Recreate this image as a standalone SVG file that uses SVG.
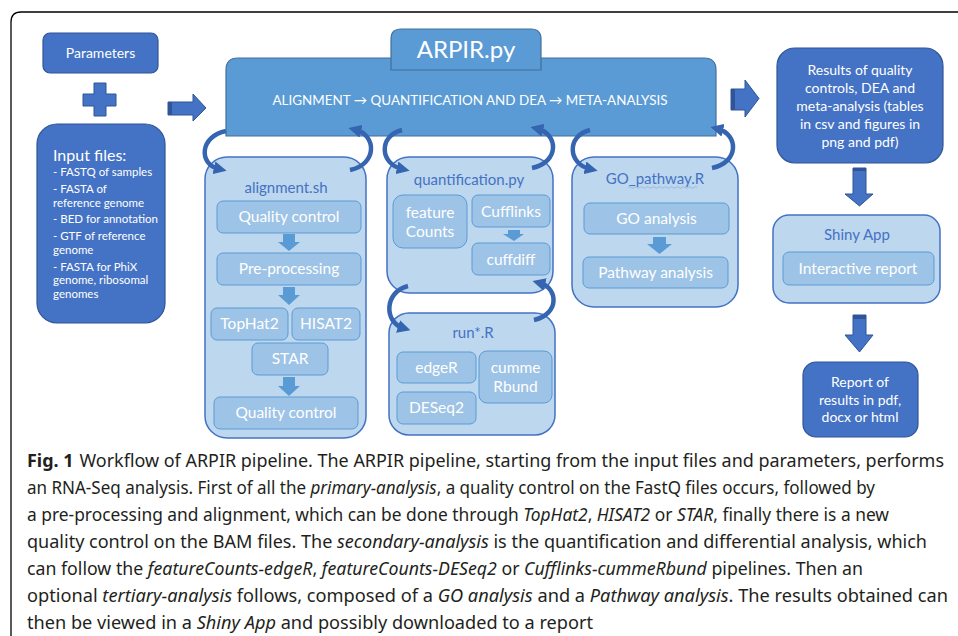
<svg xmlns="http://www.w3.org/2000/svg" width="958" height="636" viewBox="0 0 958 636">
<defs>
<style>
.dark{fill:#4472C4;stroke:#2F5597;stroke-width:1.2}
.main{fill:#5B9BD5;stroke:#41719C;stroke-width:1.2}
.cont{fill:#BDD7EE;stroke:#4472C4;stroke-width:1.5}
.inner{fill:#9DC3E6;stroke:#5B9BD5;stroke-width:1}
.blk{fill:#4472C4;stroke:#2F5597;stroke-width:1}
.sm{fill:#5B9BD5}
.t{font-family:Lato,"Open Sans","Liberation Sans",sans-serif;fill:#fff;text-anchor:middle}
.ttl{font-family:Lato,"Open Sans","Liberation Sans",sans-serif;fill:#4472C4;text-anchor:middle;font-size:15px}
.in{font-size:15.5px}
.bul{font-family:Lato,"Open Sans","Liberation Sans",sans-serif;fill:#fff;font-size:11.5px}
.cap{font-family:"Noto Sans","Open Sans","Liberation Sans",sans-serif;font-size:18px;fill:#231F20}
.curve{fill:none;stroke:#3564B0;stroke-width:4.5;marker-end:url(#ah)}
</style>
<marker id="ah" viewBox="0 0 10 10" refX="4" refY="5" markerWidth="13" markerHeight="13" markerUnits="userSpaceOnUse" orient="auto">
<path d="M0,0 L10,5 L0,10 z" fill="#3564B0"/>
</marker>
</defs>
<rect width="958" height="636" fill="#fff"/>
<path d="M11 636 L11 22 Q11 12 21 12 L958 12" fill="none" stroke="#000" stroke-width="1.3"/>

<g id="parameters">
<rect class="dark" x="43" y="33" width="115" height="40" rx="7"/>
<text class="t" x="100.5" y="58" font-size="14">Parameters</text>
</g>
<g id="plus">
<path class="blk" d="M94 83 H106 V94 H116 V106 H106 V116 H94 V106 H83 V94 H94 Z"/>
</g>
<g id="input-files">
<rect class="dark" x="37" y="124" width="128" height="199" rx="20"/>
<text x="53" y="161" font-size="16" fill="#fff" font-family="Lato,'Open Sans','Liberation Sans',sans-serif">Input files:</text>
<text class="bul" x="53" y="176">- FASTQ of samples</text>
<text class="bul" x="53" y="193">-  FASTA of</text>
<text class="bul" x="53" y="207">reference genome</text>
<text class="bul" x="53" y="223">- BED for annotation</text>
<text class="bul" x="53" y="240">- GTF of reference</text>
<text class="bul" x="53" y="254">genome</text>
<text class="bul" x="53" y="271">- FASTA for PhiX</text>
<text class="bul" x="53" y="284">genome, ribosomal</text>
<text class="bul" x="53" y="298">genomes</text>
</g>

<g id="arpir">
<path class="main" d="M226 136 V70 Q226 58 238 58 H704 Q716 58 716 70 V136 Z"/>
<path class="main" d="M391 70 V39 Q391 29 401 29 H531 Q541 29 541 39 V70 Z"/>
<text class="t" x="466" y="58" font-size="24">ARPIR.py</text>
<text class="t" x="470" y="105" font-size="13" textLength="395" lengthAdjust="spacingAndGlyphs">ALIGNMENT  → QUANTIFICATION AND DEA  →  META-ANALYSIS</text>
</g>

<g id="results">
<rect class="dark" x="777" y="48" width="166" height="115" rx="18"/>
<text class="t" font-size="14" x="860"><tspan x="860" y="75">Results of quality</tspan><tspan x="860" y="93">controls, DEA and</tspan><tspan x="860" y="111">meta-analysis (tables</tspan><tspan x="860" y="129">in csv and figures in</tspan><tspan x="860" y="147">png and pdf)</tspan></text>
</g>

<g id="shiny">
<rect class="cont" x="773" y="215" width="167" height="88" rx="16"/>
<text class="ttl" x="857" y="240" font-size="14">Shiny App</text>
<rect class="inner" x="783" y="252" width="151" height="33" rx="6"/>
<text class="t in" x="858" y="274" font-size="15">Interactive report</text>
</g>

<g id="report">
<rect class="dark" x="803" y="362" width="115" height="75" rx="13"/>
<text class="t" font-size="14"><tspan x="860" y="387">Report of</tspan><tspan x="860" y="405">results in pdf,</tspan><tspan x="860" y="422">docx or html</tspan></text>
</g>

<g id="alignment">
<rect class="cont" x="205" y="157" width="161" height="281" rx="22"/>
<text class="ttl" x="286" y="193">alignment.sh</text>
<rect class="inner" x="217" y="201" width="144" height="32" rx="6"/>
<text class="t in" x="289" y="222">Quality control</text>
<path class="sm" d="M283 234 H295 V242 H300 L289 251 L278 242 H283 Z"/>
<rect class="inner" x="217" y="253" width="144" height="32" rx="6"/>
<text class="t in" x="289" y="274">Pre-processing</text>
<path class="sm" d="M283 287 H295 V295 H300 L289 305 L278 295 H283 Z"/>
<rect class="inner" x="211" y="308" width="77" height="32" rx="6"/>
<text class="t in" x="249.5" y="329">TopHat2</text>
<rect class="inner" x="292" y="308" width="68" height="32" rx="6"/>
<text class="t in" x="326" y="329">HISAT2</text>
<rect class="inner" x="252" y="343" width="76" height="32" rx="6"/>
<text class="t in" x="290" y="364">STAR</text>
<path class="sm" d="M283 377 H295 V386 H300 L289 396 L278 386 H283 Z"/>
<rect class="inner" x="214" y="397" width="144" height="32" rx="6"/>
<text class="t in" x="286" y="418">Quality control</text>
</g>

<g id="quantification">
<rect class="cont" x="387" y="157" width="166" height="136" rx="22"/>
<text class="ttl" x="469" y="185">quantification.py</text>
<rect class="inner" x="393" y="195" width="74" height="53" rx="10"/>
<text class="t in"><tspan x="430" y="218">feature</tspan><tspan x="430" y="237">Counts</tspan></text>
<rect class="inner" x="472" y="195" width="78" height="32" rx="6"/>
<text class="t in" x="511" y="217">Cufflinks</text>
<path class="sm" d="M508 230 H520 V234 H524 L514 241 L503 234 H508 Z"/>
<rect class="inner" x="472" y="243" width="78" height="32" rx="6"/>
<text class="t in" x="511" y="265">cuffdiff</text>
</g>

<g id="run-r">
<rect class="cont" x="389" y="313" width="166" height="122" rx="20"/>
<text class="ttl" x="473" y="338">run*.R</text>
<rect class="inner" x="397" y="352" width="79" height="31" rx="6"/>
<text class="t in" x="436.5" y="373">edgeR</text>
<rect class="inner" x="479" y="351" width="73" height="52" rx="8"/>
<text class="t in"><tspan x="515.5" y="373">cumme</tspan><tspan x="515.5" y="392">Rbund</tspan></text>
<rect class="inner" x="397" y="392" width="79" height="32" rx="6"/>
<text class="t in" x="436.5" y="413">DESeq2</text>
</g>

<g id="go-pathway">
<rect class="cont" x="572" y="157" width="166" height="150" rx="22"/>
<text class="ttl" x="655" y="184">GO_pathway.R</text>
<path d="M628 187.5 q1.5 -1.5 3 0 t3 0 t3 0 t3 0 t3 0 t3 0 t3 0 t3 0 t3 0 t3 0 t3 0 t3 0 t3 0 t3 0 t3 0 t3 0 t3 0 t3 0 t3 0 t3 0 t3 0 t3 0 t3 0" fill="none" stroke="#8FAADC" stroke-width="0.7"/>
<rect class="inner" x="584" y="203" width="145" height="31" rx="6"/>
<text class="t in" x="656.5" y="224">GO analysis</text>
<path class="sm" d="M653 237 H666 V244 H672 L659.5 254 L647 244 H653 Z"/>
<rect class="inner" x="583" y="257" width="145" height="31" rx="6"/>
<text class="t in" x="655.5" y="278">Pathway analysis</text>
</g>

<g id="connectors">
<path class="blk" d="M168 102 H193 V94 L206 108 L193 121 V115 H168 Z"/>
<rect x="168" y="102" width="4" height="13" fill="#2F5597"/>
<path class="blk" d="M731 89 H745 V80 L759 98.5 L745 117 V110 H731 Z"/>
<rect x="731" y="89" width="4" height="21" fill="#2F5597"/>
<path class="blk" d="M853 168 H866 V194 H873 L859.5 206 L845 194 H853 Z"/>
<rect x="853" y="168" width="13" height="3" fill="#2F5597"/>
<path class="blk" d="M853 315 H866 V335 H873 L859.5 352 L845 335 H853 Z"/>
<rect x="853" y="315" width="13" height="4" fill="#2F5597"/>

<path class="curve" d="M226 131 C200 136 198 164 219 169"/>
<path class="curve" d="M350 170 C378 164 376 135 356 130"/>
<path class="curve" d="M402 130 C378 136 380 164 402 169"/>
<path class="curve" d="M532 168 C560 162 558 134 538 129"/>
<path class="curve" d="M590 130 C566 136 568 164 590 169"/>
<path class="curve" d="M712 168 C740 162 738 134 718 129"/>
<path class="curve" d="M408 286 C384 292 384 322 403 328"/>
<path class="curve" d="M534 320 C560 314 558 288 540 283"/>
</g>

<g id="caption">
<text class="cap" x="27" y="467" textLength="917" lengthAdjust="spacingAndGlyphs"><tspan font-weight="bold">Fig. 1</tspan><tspan dx="6">Workflow of ARPIR pipeline. The ARPIR pipeline, starting from the input files and parameters, performs</tspan></text>
<text class="cap" x="27" y="494" textLength="848" lengthAdjust="spacingAndGlyphs">an RNA-Seq analysis. First of all the <tspan font-style="italic">primary-analysis</tspan>, a quality control on the FastQ files occurs, followed by</text>
<text class="cap" x="27" y="521" textLength="862" lengthAdjust="spacingAndGlyphs">a pre-processing and alignment, which can be done through <tspan font-style="italic">TopHat2</tspan>, <tspan font-style="italic">HISAT2</tspan> or <tspan font-style="italic">STAR</tspan>, finally there is a new</text>
<text class="cap" x="27" y="548" textLength="900" lengthAdjust="spacingAndGlyphs">quality control on the BAM files. The <tspan font-style="italic">secondary-analysis</tspan> is the quantification and differential analysis, which</text>
<text class="cap" x="27" y="575" textLength="836" lengthAdjust="spacingAndGlyphs">can follow the <tspan font-style="italic">featureCounts-edgeR</tspan>, <tspan font-style="italic">featureCounts-DESeq2</tspan> or <tspan font-style="italic">Cufflinks-cummeRbund</tspan> pipelines. Then an</text>
<text class="cap" x="27" y="602" textLength="921" lengthAdjust="spacingAndGlyphs">optional <tspan font-style="italic">tertiary-analysis</tspan> follows, composed of a <tspan font-style="italic">GO analysis</tspan> and a <tspan font-style="italic">Pathway analysis</tspan>. The results obtained can</text>
<text class="cap" x="27" y="629" textLength="566" lengthAdjust="spacingAndGlyphs">then be viewed in a <tspan font-style="italic">Shiny App</tspan> and possibly downloaded to a report</text>
</g>
</svg>
